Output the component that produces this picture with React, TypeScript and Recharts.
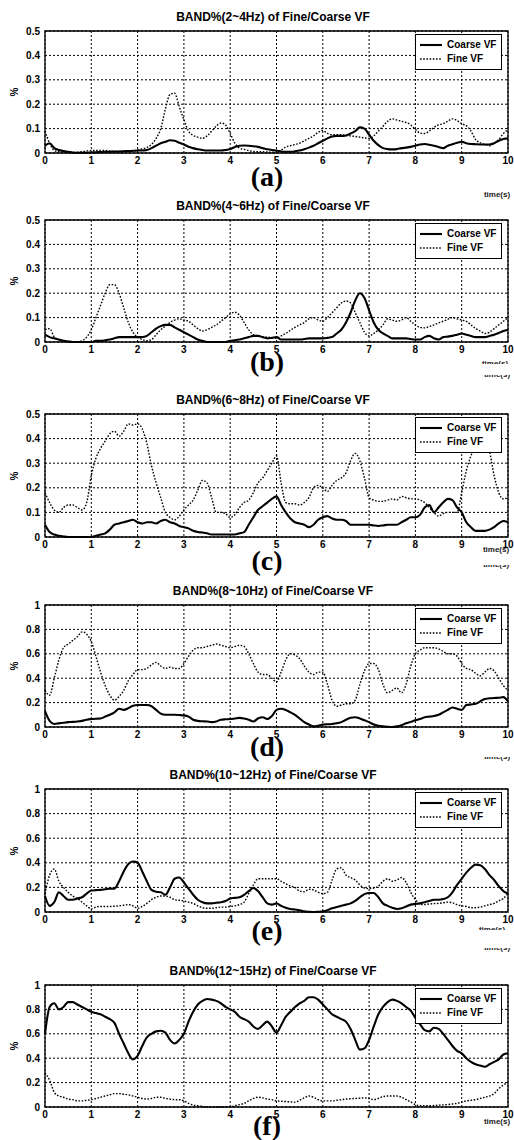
import React from 'react';
import { LineChart, Line, XAxis, YAxis, CartesianGrid, ReferenceArea } from 'recharts';

const TIME_S = Array.from({ length: 101 }, (_, i) => i / 10);
const X_TICKS = [0, 1, 2, 3, 4, 5, 6, 7, 8, 9, 10];
const Y_TICKS_HALF = [0, 0.1, 0.2, 0.3, 0.4, 0.5];
const Y_TICKS_ONE = [0, 0.2, 0.4, 0.6, 0.8, 1];
const SERIES_NAMES = ['Coarse VF', 'Fine VF'];
const TITLES = [
  'BAND%(2~4Hz) of Fine/Coarse VF',
  'BAND%(4~6Hz) of Fine/Coarse VF',
  'BAND%(6~8Hz) of Fine/Coarse VF',
  'BAND%(8~10Hz) of Fine/Coarse VF',
  'BAND%(10~12Hz) of Fine/Coarse VF',
  'BAND%(12~15Hz) of Fine/Coarse VF',
];
const PANEL_LABELS = ['(a)', '(b)', '(c)', '(d)', '(e)', '(f)'];
const Y_LABEL = '%';
const X_LABEL = 'time(s)';

const COARSE_A = [
  0.03, 0.04, 0.02, 0.012, 0.008, 0.005, 0.002, 0.001, 0.001, 0.001,
  0.002, 0.003, 0.004, 0.005, 0.005, 0.006, 0.006, 0.007, 0.008, 0.009,
  0.01, 0.01, 0.012, 0.02, 0.03, 0.04, 0.046, 0.052, 0.05, 0.042,
  0.035, 0.026, 0.02, 0.015, 0.012, 0.01, 0.01, 0.01, 0.01, 0.012,
  0.016, 0.025, 0.03, 0.031, 0.03, 0.028, 0.025, 0.02, 0.015, 0.012,
  0.01, 0.006, 0.005, 0.005, 0.007, 0.01, 0.015, 0.022, 0.03, 0.04,
  0.05, 0.06, 0.068, 0.07, 0.07, 0.072, 0.08, 0.09, 0.105, 0.1,
  0.075, 0.05, 0.032, 0.02, 0.016, 0.015, 0.016, 0.02, 0.022, 0.025,
  0.03, 0.035, 0.037, 0.034, 0.03, 0.025, 0.02, 0.03, 0.036, 0.042,
  0.046, 0.04, 0.037, 0.036, 0.035, 0.035, 0.035, 0.04, 0.05, 0.057,
  0.06,
];
const FINE_A = [
  0.09, 0.04, 0.01, 0.005, 0.003, 0.002, 0.002, 0.003, 0.005, 0.008,
  0.01, 0.01, 0.01, 0.01, 0.008, 0.006, 0.006, 0.006, 0.006, 0.008,
  0.012, 0.017, 0.022, 0.035, 0.06, 0.1, 0.18, 0.24, 0.245, 0.19,
  0.137, 0.09, 0.072, 0.065, 0.06, 0.07, 0.09, 0.11, 0.123, 0.115,
  0.08, 0.04, 0.02, 0.015, 0.01, 0.006, 0.005, 0.005, 0.004, 0.003,
  0.004, 0.012, 0.025, 0.03, 0.035, 0.04, 0.05, 0.06, 0.07, 0.085,
  0.092, 0.08, 0.075, 0.075, 0.075, 0.072, 0.07, 0.068, 0.065, 0.062,
  0.06, 0.07, 0.09, 0.11, 0.13, 0.14, 0.135, 0.13, 0.125, 0.115,
  0.097, 0.082, 0.08, 0.09, 0.105, 0.115, 0.12, 0.13, 0.14, 0.133,
  0.12, 0.112, 0.09, 0.055, 0.042, 0.035, 0.03, 0.04, 0.055, 0.08,
  0.095,
];
const COARSE_B = [
  0.03, 0.02, 0.015, 0.01, 0.005, 0.002, 0, 0, 0, 0,
  0, 0.005, 0.005, 0.007, 0.01, 0.015, 0.02, 0.02, 0.02, 0.02,
  0.02, 0.02, 0.025, 0.04, 0.055, 0.065, 0.07, 0.07, 0.06, 0.05,
  0.04, 0.03, 0.02, 0.01, 0.005, 0, 0, 0, 0, 0,
  0.005, 0.007, 0.01, 0.015, 0.02, 0.025, 0.025, 0.02, 0.015, 0.017,
  0.02, 0.01, 0.01, 0.01, 0.01, 0.01, 0.012, 0.015, 0.015, 0.015,
  0.015, 0.017, 0.02, 0.035, 0.05, 0.08, 0.12, 0.17, 0.2, 0.18,
  0.13, 0.08, 0.05, 0.035, 0.025, 0.015, 0.015, 0.015, 0.015, 0.012,
  0.01, 0.01, 0.02, 0.025, 0.015, 0.01, 0.02, 0.022, 0.025, 0.03,
  0.035, 0.03, 0.025, 0.02, 0.02, 0.02, 0.025, 0.03, 0.037, 0.045,
  0.05,
];
const FINE_B = [
  0.05, 0.055, 0.02, 0.01, 0.005, 0.002, 0.001, 0.001, 0.005, 0.02,
  0.05, 0.1, 0.15, 0.2, 0.235, 0.235, 0.2, 0.14, 0.08, 0.04,
  0.02, 0.01, 0.005, 0.01, 0.03, 0.05, 0.065, 0.08, 0.09, 0.095,
  0.09, 0.085, 0.07, 0.055, 0.045, 0.05, 0.06, 0.07, 0.085, 0.1,
  0.115, 0.122, 0.11, 0.08, 0.05, 0.03, 0.025, 0.022, 0.02, 0.018,
  0.015, 0.025, 0.035, 0.048, 0.06, 0.07, 0.08, 0.095, 0.1, 0.09,
  0.085, 0.1, 0.12, 0.14, 0.16, 0.168, 0.16, 0.12, 0.08, 0.04,
  0.025, 0.035, 0.05, 0.07, 0.095, 0.09, 0.085, 0.09, 0.1, 0.085,
  0.07, 0.06, 0.058, 0.063, 0.07, 0.078, 0.085, 0.093, 0.1, 0.095,
  0.09, 0.085, 0.07, 0.055, 0.045, 0.035, 0.04, 0.055, 0.07, 0.085,
  0.1,
];
const COARSE_C = [
  0.05, 0.02, 0.01, 0.005, 0.002, 0, 0, 0, 0, 0,
  0, 0.005, 0.01, 0.015, 0.03, 0.05, 0.055, 0.06, 0.065, 0.07,
  0.06, 0.055, 0.06, 0.06, 0.055, 0.065, 0.07, 0.06, 0.055, 0.045,
  0.04, 0.035, 0.025, 0.02, 0.018, 0.015, 0.01, 0.01, 0.01, 0.01,
  0.01, 0.01, 0.015, 0.02, 0.05, 0.08, 0.11, 0.125, 0.14, 0.155,
  0.165, 0.13, 0.1, 0.075, 0.06, 0.055, 0.05, 0.04, 0.05, 0.07,
  0.08, 0.085, 0.075, 0.07, 0.07, 0.065, 0.05, 0.05, 0.05, 0.05,
  0.05, 0.047, 0.045, 0.047, 0.05, 0.05, 0.05, 0.06, 0.07, 0.08,
  0.08, 0.09, 0.12, 0.13, 0.1, 0.12, 0.14, 0.155, 0.15, 0.12,
  0.1, 0.06, 0.04, 0.025, 0.025, 0.025, 0.03, 0.04, 0.055, 0.065,
  0.06,
];
const FINE_C = [
  0.18, 0.14, 0.11, 0.1, 0.12, 0.13, 0.13, 0.12, 0.11, 0.14,
  0.25, 0.32, 0.36, 0.39, 0.42, 0.43, 0.41, 0.43, 0.46, 0.455,
  0.46, 0.44, 0.38, 0.29, 0.22, 0.16, 0.1, 0.08, 0.07, 0.085,
  0.11, 0.13, 0.15, 0.19, 0.23, 0.22, 0.16, 0.1, 0.1, 0.095,
  0.08, 0.09, 0.12, 0.14, 0.15, 0.18, 0.22, 0.24, 0.27, 0.3,
  0.33, 0.22, 0.14, 0.135, 0.135, 0.13, 0.14, 0.16, 0.2, 0.21,
  0.2, 0.185, 0.21, 0.23, 0.24, 0.26, 0.31, 0.34, 0.31, 0.24,
  0.16, 0.15, 0.145, 0.145, 0.15, 0.155, 0.15, 0.165, 0.16, 0.155,
  0.155, 0.15, 0.14, 0.12, 0.1, 0.085, 0.095, 0.1, 0.1, 0.1,
  0.18, 0.27, 0.33, 0.37, 0.41, 0.4, 0.35, 0.25, 0.18, 0.155,
  0.16,
];
const COARSE_D = [
  0.13, 0.05, 0.025, 0.03, 0.035, 0.04, 0.042, 0.045, 0.05, 0.06,
  0.065, 0.068, 0.07, 0.085, 0.1, 0.12, 0.15, 0.14, 0.155, 0.175,
  0.18, 0.18, 0.18, 0.17, 0.14, 0.11, 0.1, 0.1, 0.1, 0.098,
  0.095, 0.085, 0.06, 0.05, 0.047, 0.045, 0.04, 0.045, 0.06, 0.063,
  0.065, 0.07, 0.075, 0.07, 0.06, 0.045, 0.07, 0.08, 0.065, 0.09,
  0.14, 0.15, 0.14, 0.12, 0.1, 0.07, 0.04, 0.02, 0.005, 0.01,
  0.02, 0.022, 0.025, 0.03, 0.04, 0.06, 0.075, 0.08, 0.07, 0.055,
  0.04, 0.02, 0.01, 0.005, 0.002, 0, 0.005, 0.015, 0.03, 0.042,
  0.055, 0.065, 0.08, 0.085, 0.09, 0.1, 0.12, 0.14, 0.16, 0.15,
  0.14, 0.18, 0.185, 0.19, 0.21, 0.23, 0.235, 0.238, 0.24, 0.245,
  0.21,
];
const FINE_D = [
  0.3, 0.26, 0.4, 0.55, 0.65, 0.68, 0.71, 0.74, 0.78, 0.76,
  0.7, 0.58, 0.45, 0.34, 0.26, 0.22, 0.25, 0.3, 0.38, 0.43,
  0.47, 0.47, 0.48, 0.51, 0.53, 0.5, 0.48, 0.49, 0.48, 0.48,
  0.52, 0.58, 0.63, 0.65, 0.65, 0.66, 0.67, 0.68, 0.67, 0.66,
  0.65, 0.66, 0.67, 0.66, 0.6, 0.52, 0.45, 0.43, 0.43, 0.4,
  0.37, 0.45, 0.55, 0.6, 0.59, 0.56, 0.5, 0.45, 0.43, 0.45,
  0.45, 0.35, 0.22, 0.17, 0.18, 0.19, 0.19, 0.22, 0.35, 0.46,
  0.52, 0.52, 0.47, 0.35, 0.28, 0.3, 0.32, 0.28, 0.35, 0.5,
  0.6, 0.63, 0.65, 0.65, 0.65, 0.64, 0.62, 0.6, 0.6, 0.58,
  0.52, 0.48, 0.47, 0.44, 0.42, 0.45, 0.48, 0.46, 0.4, 0.34,
  0.3,
];
const COARSE_E = [
  0.13, 0.05, 0.08, 0.16, 0.13, 0.1, 0.1, 0.11, 0.12, 0.15,
  0.175, 0.178, 0.18, 0.185, 0.19, 0.19, 0.25, 0.33, 0.39, 0.41,
  0.4, 0.33, 0.25, 0.18, 0.165, 0.16, 0.14, 0.2, 0.27, 0.28,
  0.24, 0.19, 0.14, 0.1, 0.08, 0.07, 0.07, 0.075, 0.08, 0.09,
  0.11, 0.115, 0.12, 0.14, 0.17, 0.195, 0.17, 0.12, 0.07, 0.06,
  0.07, 0.05, 0.035, 0.025, 0.02, 0.015, 0.005, 0.002, 0, 0.002,
  0.005, 0.015, 0.03, 0.04, 0.05, 0.06, 0.07, 0.09, 0.12, 0.145,
  0.155, 0.155, 0.12, 0.07, 0.05, 0.035, 0.025, 0.03, 0.045, 0.06,
  0.065, 0.07, 0.08, 0.09, 0.1, 0.1, 0.105, 0.12, 0.16, 0.22,
  0.27, 0.32, 0.36, 0.385, 0.38, 0.35, 0.3, 0.26, 0.21, 0.17,
  0.15,
];
const FINE_E = [
  0.15, 0.3, 0.35, 0.25, 0.2, 0.16, 0.13, 0.11, 0.08, 0.05,
  0.025, 0.04, 0.045, 0.045, 0.045, 0.047, 0.05, 0.055, 0.06, 0.05,
  0.03, 0.045, 0.07, 0.1, 0.12, 0.13, 0.13, 0.12, 0.1, 0.095,
  0.09, 0.08, 0.07, 0.05, 0.035, 0.03, 0.03, 0.035, 0.04, 0.04,
  0.045, 0.05, 0.06, 0.08, 0.15, 0.22, 0.27, 0.27, 0.27, 0.27,
  0.27, 0.25, 0.23, 0.21, 0.2, 0.17, 0.165, 0.185, 0.18, 0.16,
  0.15, 0.16, 0.26, 0.35, 0.36, 0.3, 0.28, 0.26, 0.22, 0.195,
  0.19, 0.195, 0.21, 0.25, 0.27, 0.25, 0.26, 0.28, 0.24, 0.16,
  0.1, 0.065, 0.06, 0.065, 0.068, 0.07, 0.075, 0.08, 0.075, 0.06,
  0.05, 0.045, 0.035, 0.035, 0.04, 0.05, 0.06, 0.07, 0.09, 0.11,
  0.15,
];
const COARSE_F = [
  0.6, 0.82, 0.85, 0.8, 0.82, 0.86, 0.86, 0.84, 0.82, 0.8,
  0.78, 0.77, 0.76, 0.74, 0.72, 0.69, 0.6, 0.52, 0.44, 0.39,
  0.42, 0.5, 0.57, 0.6, 0.62, 0.625, 0.61, 0.55, 0.52, 0.55,
  0.6, 0.7, 0.78, 0.84, 0.87, 0.885, 0.88, 0.87, 0.85, 0.82,
  0.8, 0.78, 0.74, 0.72, 0.7, 0.66, 0.64, 0.67, 0.7, 0.66,
  0.61, 0.67, 0.74, 0.78, 0.82, 0.85, 0.87, 0.9, 0.9, 0.88,
  0.84, 0.8, 0.76, 0.74, 0.72, 0.7, 0.64, 0.55, 0.47, 0.48,
  0.55, 0.66, 0.76, 0.82, 0.86, 0.88, 0.87, 0.85, 0.82, 0.79,
  0.73, 0.68, 0.63, 0.62, 0.65, 0.64, 0.6, 0.55, 0.5, 0.46,
  0.44, 0.4, 0.37, 0.35, 0.34, 0.33, 0.35, 0.37, 0.39, 0.43,
  0.44,
];
const FINE_F = [
  0.28, 0.22, 0.12, 0.09, 0.08, 0.065, 0.06, 0.05, 0.05, 0.055,
  0.06, 0.07, 0.08, 0.09, 0.1, 0.11, 0.11, 0.105, 0.1, 0.09,
  0.08, 0.07, 0.065, 0.07, 0.08, 0.08, 0.07, 0.065, 0.06, 0.06,
  0.05, 0.03, 0.015, 0.01, 0.005, 0, 0, 0, 0, 0,
  0, 0.01, 0.02, 0.03, 0.05, 0.07, 0.08, 0.075, 0.065, 0.06,
  0.05, 0.047, 0.045, 0.042, 0.04, 0.055, 0.075, 0.09, 0.08, 0.06,
  0.05, 0.05, 0.05, 0.055, 0.06, 0.065, 0.068, 0.07, 0.072, 0.075,
  0.07, 0.06, 0.07, 0.085, 0.09, 0.09, 0.09, 0.08, 0.06, 0.04,
  0.02, 0.01, 0.01, 0.01, 0.012, 0.015, 0.017, 0.02, 0.025, 0.03,
  0.04, 0.05, 0.055, 0.06, 0.07, 0.08, 0.09, 0.11, 0.15, 0.18,
  0.2,
];

const COARSE_ALL = [COARSE_A, COARSE_B, COARSE_C, COARSE_D, COARSE_E, COARSE_F];
const FINE_ALL = [FINE_A, FINE_B, FINE_C, FINE_D, FINE_E, FINE_F];
const Y_MAX = [0.5, 0.5, 0.5, 1, 1, 1];

// layout (pixels)
const LAYOUT = [
  { top: 31, bottom: 153, titleY: 17, labelY: 178 },
  { top: 220, bottom: 342, titleY: 206, labelY: 363 },
  { top: 414, bottom: 537, titleY: 400, labelY: 562 },
  { top: 605, bottom: 727, titleY: 591, labelY: 748 },
  { top: 789, bottom: 912, titleY: 775, labelY: 932 },
  { top: 985, bottom: 1107, titleY: 971, labelY: 1127 },
];
const TIME_MARKS = [
  { x: 497, y: 195, part: 'full' },
  { x: 495, y: 364, part: 'upper' },
  { x: 497, y: 375, part: 'lower' },
  { x: 496, y: 550, part: 'full' },
  { x: 496, y: 565, part: 'lower' },
  { x: 497, y: 757, part: 'lower' },
  { x: 492, y: 930, part: 'upper' },
  { x: 497, y: 948, part: 'lower' },
  { x: 497, y: 1122, part: 'full' },
];

const SANS = '"Liberation Sans", Arial, "DejaVu Sans", sans-serif';
const SERIF = '"Liberation Serif", "Times New Roman", serif';
const tickStyle = { fill: '#000', fontSize: 10, fontWeight: 700, fontFamily: SANS };

function Panel({ idx }: { idx: number }) {
  const lay = LAYOUT[idx];
  const yMax = Y_MAX[idx];
  const yTicks = yMax === 0.5 ? Y_TICKS_HALF : Y_TICKS_ONE;
  const coarse = COARSE_ALL[idx];
  const fine = FINE_ALL[idx];
  const data = TIME_S.map((t, i) => ({ t, coarse: coarse[i], fine: fine[i] }));
  const h = lay.bottom - lay.top;
  const mTop = 10;
  const xH = 22;
  return (
    <>
      <div style={{ position: 'absolute', left: 0, top: lay.top - mTop }}>
        <LineChart width={514} height={h + mTop + xH} data={data} margin={{ top: mTop, right: 6, bottom: 0, left: 8 }}>
          <CartesianGrid stroke="#000" strokeDasharray="2 2" strokeWidth={1} />
          <XAxis
            dataKey="t"
            type="number"
            domain={[0, 10]}
            ticks={X_TICKS}
            interval={0}
            tickSize={0}
            tickMargin={4}
            height={xH}
            axisLine={false}
            tickLine={false}
            tick={tickStyle}
          />
          <YAxis
            type="number"
            domain={[0, yMax]}
            ticks={yTicks}
            interval={0}
            width={37}
            tickSize={0}
            tickMargin={5}
            axisLine={false}
            tickLine={false}
            tick={tickStyle}
          />
          <ReferenceArea x1={0} x2={10} y1={0} y2={yMax} fill="none" fillOpacity={0} stroke="#000" strokeWidth={1.3} />
          <Line
            type="monotone"
            dataKey="coarse"
            name={SERIES_NAMES[0]}
            stroke="#000"
            strokeWidth={2.1}
            dot={false}
            isAnimationActive={false}
          />
          <Line
            type="monotone"
            dataKey="fine"
            name={SERIES_NAMES[1]}
            stroke="#000"
            strokeWidth={1.4}
            strokeDasharray="1.6 1.6"
            dot={false}
            isAnimationActive={false}
          />
        </LineChart>
      </div>
      <div
        style={{
          position: 'absolute',
          left: 73,
          width: 400,
          top: lay.titleY - 7,
          textAlign: 'center',
          fontFamily: SANS,
          fontWeight: 700,
          fontSize: 12,
          lineHeight: '14px',
          color: '#000',
          whiteSpace: 'nowrap',
        }}
      >
        {TITLES[idx]}
      </div>
      <div
        style={{
          position: 'absolute',
          left: 5,
          width: 20,
          top: (lay.top + lay.bottom) / 2 - 6,
          textAlign: 'center',
          fontFamily: SANS,
          fontWeight: 700,
          fontSize: 10,
          lineHeight: '12px',
          transform: 'rotate(-90deg)',
        }}
      >
        {Y_LABEL}
      </div>
      <div
        style={{
          position: 'absolute',
          left: 415,
          top: lay.top + 3,
          width: 87,
          height: 36,
          border: '1px solid #000',
          background: '#fff',
          boxSizing: 'border-box',
        }}
      >
        {SERIES_NAMES.map((name, k) => (
          <div key={name} style={{ position: 'absolute', left: 0, top: 4 + k * 14, height: 12, width: 85 }}>
            <svg width={30} height={12} style={{ position: 'absolute', left: 0, top: 0 }}>
              <line
                x1={4}
                x2={26}
                y1={6}
                y2={6}
                stroke="#000"
                strokeWidth={k === 0 ? 2.1 : 1.4}
                strokeDasharray={k === 0 ? undefined : '1.6 1.6'}
              />
            </svg>
            <span
              style={{
                position: 'absolute',
                left: 31,
                top: 0,
                fontFamily: SANS,
                fontWeight: 700,
                fontSize: 10,
                lineHeight: '12px',
                whiteSpace: 'nowrap',
              }}
            >
              {name}
            </span>
          </div>
        ))}
      </div>
      <div
        style={{
          position: 'absolute',
          left: 217,
          width: 100,
          top: lay.labelY - 17,
          textAlign: 'center',
          fontFamily: SERIF,
          fontWeight: 700,
          fontSize: 28,
          lineHeight: '32px',
          color: '#000',
        }}
      >
        {PANEL_LABELS[idx]}
      </div>
    </>
  );
}

function TimeMark({ x, y, part }: { x: number; y: number; part: string }) {
  const clipH = part === 'full' ? 10 : 5;
  const offset = part === 'lower' ? -5 : 0;
  return (
    <div
      style={{
        position: 'absolute',
        left: x - 20,
        width: 40,
        top: part === 'lower' ? y : y - 5,
        height: clipH,
        overflow: 'hidden',
      }}
    >
      <div
        style={{
          position: 'absolute',
          left: 0,
          width: 40,
          top: offset,
          textAlign: 'center',
          fontFamily: SANS,
          fontWeight: 700,
          fontSize: 8,
          lineHeight: '10px',
          color: '#222',
          whiteSpace: 'nowrap',
        }}
      >
        {X_LABEL}
      </div>
    </div>
  );
}

export default function App() {
  return (
    <div
      style={{
        position: 'absolute',
        left: 0,
        top: 0,
        width: 514,
        height: 1140,
        background: '#fff',
        overflow: 'hidden',
      }}
    >
      {LAYOUT.map((_, i) => (
        <Panel key={i} idx={i} />
      ))}
      {TIME_MARKS.map((m, i) => (
        <TimeMark key={i} x={m.x} y={m.y} part={m.part} />
      ))}
    </div>
  );
}
